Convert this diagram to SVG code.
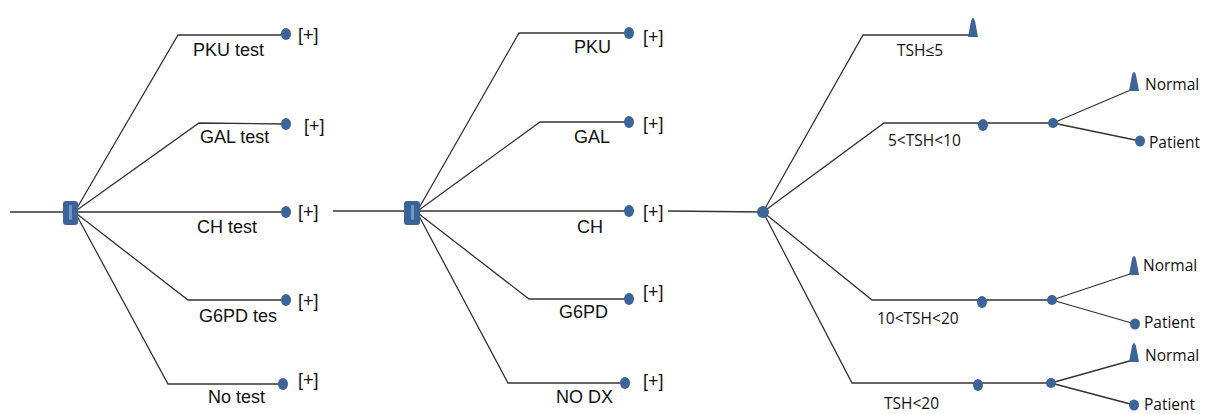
<svg xmlns="http://www.w3.org/2000/svg" width="1206" height="414" viewBox="0 0 1206 414">
<style>
.ln{fill:none;stroke:#333;stroke-width:1.3}
.dot{fill:#3d6498}
.sq{fill:#3b6399}
.bar{fill:#6e95c8}
.a{font-family:"Liberation Sans",Arial,sans-serif;font-size:18px;fill:#111}
.b{font-family:"Open Sans","Noto Sans",sans-serif;font-size:15.5px;fill:#111}
</style>
<defs>
<path id="tri" d="M-5,0 L-2.2,-15 Q0,-23 2.2,-15 L5,0 Z" fill="#3d6498"/>
</defs>
<rect width="1206" height="414" fill="#fff"/>
<g id="connectors">
<line class="ln" x1="10" y1="212" x2="64" y2="212"/>
<polyline class="ln" points="77,208 178,35 286,35"/>
<polyline class="ln" points="77,210 199,123 286,124"/>
<line class="ln" x1="77" y1="212" x2="286" y2="212"/>
<polyline class="ln" points="77,214 188,300 286,300"/>
<polyline class="ln" points="77,216 168,384 283,384"/>
<line class="ln" x1="333" y1="211" x2="405" y2="211"/>
<polyline class="ln" points="419,208 519,33 629,33"/>
<polyline class="ln" points="419,210 540,122 629,122"/>
<line class="ln" x1="419" y1="211" x2="629" y2="211"/>
<polyline class="ln" points="419,214 529,299 629,299"/>
<polyline class="ln" points="419,216 508,383 625,383"/>
<line class="ln" x1="668" y1="211" x2="763" y2="212"/>
<polyline class="ln" points="763,212 863,35 973,35"/>
<polyline class="ln" points="763,212 884,123 1053,123"/>
<polyline class="ln" points="763,212 872,300 1052,300"/>
<polyline class="ln" points="763,212 852,383 1051,383"/>
<line class="ln" x1="1053" y1="123" x2="1133" y2="89"/>
<line class="ln" x1="1053" y1="123" x2="1140" y2="141"/>
<line class="ln" x1="1052" y1="300" x2="1133" y2="273"/>
<line class="ln" x1="1052" y1="300" x2="1135" y2="324"/>
<line class="ln" x1="1051" y1="383" x2="1133" y2="360"/>
<line class="ln" x1="1051" y1="383" x2="1134" y2="405"/>
</g>
<g id="root1"><rect class="sq" x="63" y="201" width="15" height="24" rx="3"/><rect class="bar" x="69" y="205" width="3" height="15" rx="1"/></g>
<g id="pku1"><ellipse class="dot" cx="286" cy="34" rx="5" ry="6"/><text class="a" x="298" y="41">[+]</text><text class="a" x="193" y="56">PKU test</text></g>
<g id="gal1"><ellipse class="dot" cx="286" cy="124" rx="5" ry="6"/><text class="a" x="304" y="132">[+]</text><text class="a" x="200" y="143">GAL test</text></g>
<g id="ch1"><ellipse class="dot" cx="286" cy="212" rx="5" ry="6"/><text class="a" x="298" y="218">[+]</text><text class="a" x="197" y="233">CH test</text></g>
<g id="g6pd1"><ellipse class="dot" cx="286" cy="300" rx="5" ry="6"/><text class="a" x="298" y="307">[+]</text><text class="a" x="199" y="322">G6PD tes</text></g>
<g id="no1"><ellipse class="dot" cx="283" cy="384" rx="5" ry="6"/><text class="a" x="298" y="386">[+]</text><text class="a" x="208" y="403">No test</text></g>
<g id="root2"><rect class="sq" x="404" y="201" width="16" height="24" rx="3"/><rect class="bar" x="411" y="205" width="3" height="15" rx="1"/></g>
<g id="pku2"><ellipse class="dot" cx="629" cy="33" rx="5" ry="6"/><text class="a" x="643" y="43">[+]</text><text class="a" x="574" y="53">PKU</text></g>
<g id="gal2"><ellipse class="dot" cx="629" cy="122" rx="5" ry="6"/><text class="a" x="643" y="130">[+]</text><text class="a" x="574" y="143">GAL</text></g>
<g id="ch2"><ellipse class="dot" cx="629" cy="211" rx="5" ry="6"/><text class="a" x="643" y="218">[+]</text><text class="a" x="577" y="233">CH</text></g>
<g id="g6pd2"><ellipse class="dot" cx="629" cy="299" rx="5" ry="6"/><text class="a" x="643" y="298">[+]</text><text class="a" x="559" y="318">G6PD</text></g>
<g id="nodx2"><ellipse class="dot" cx="625" cy="383" rx="5" ry="6"/><text class="a" x="643" y="387">[+]</text><text class="a" x="556" y="403">NO DX</text></g>
<g id="chance"><circle class="dot" cx="763" cy="212" r="6"/></g>
<g id="tsh5"><use href="#tri" x="973" y="37"/><text class="b" x="897" y="56">TSH≤5</text></g>
<g id="tsh10"><ellipse class="dot" cx="983" cy="125" rx="5" ry="6"/><text class="b" x="888" y="146">5&lt;TSH&lt;10</text></g>
<g id="tsh10c"><ellipse class="dot" cx="1053" cy="123" rx="5" ry="5"/></g>
<g id="n1"><use href="#tri" x="1134" y="91"/><text class="b" x="1145" y="90">Normal</text></g>
<g id="p1"><ellipse class="dot" cx="1140" cy="141" rx="5" ry="5.5"/><text class="b" x="1149" y="148">Patient</text></g>
<g id="tsh20"><ellipse class="dot" cx="982" cy="302" rx="5" ry="6"/><text class="b" x="877" y="324">10&lt;TSH&lt;20</text></g>
<g id="tsh20c"><ellipse class="dot" cx="1052" cy="300" rx="5" ry="5"/></g>
<g id="n2"><use href="#tri" x="1134" y="275"/><text class="b" x="1143" y="271">Normal</text></g>
<g id="p2"><ellipse class="dot" cx="1135" cy="324" rx="5" ry="5.5"/><text class="b" x="1144" y="328">Patient</text></g>
<g id="tsh20b"><ellipse class="dot" cx="978" cy="385" rx="5" ry="6"/><text class="b" x="884" y="409">TSH&lt;20</text></g>
<g id="tsh20bc"><ellipse class="dot" cx="1051" cy="383" rx="5" ry="5"/></g>
<g id="n3"><use href="#tri" x="1134" y="362"/><text class="b" x="1145" y="361">Normal</text></g>
<g id="p3"><ellipse class="dot" cx="1134" cy="405" rx="5" ry="5.5"/><text class="b" x="1144" y="410">Patient</text></g>
</svg>
